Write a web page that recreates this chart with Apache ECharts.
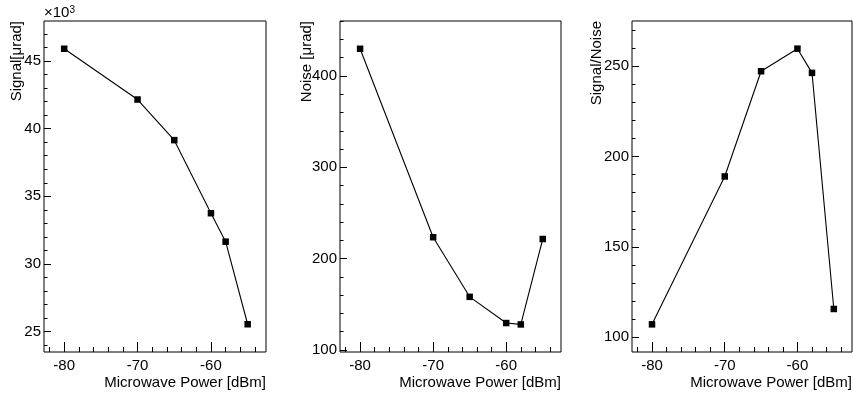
<!DOCTYPE html>
<html>
<head>
<meta charset="utf-8">
<script src="https://cdn.jsdelivr.net/npm/echarts@6/dist/echarts.min.js"></script>
<style>
html,body{margin:0;padding:0;background:#fff;}
#chart{width:853px;height:396px;}
</style>
</head>
<body>
<div id="chart"></div>
<script>
// ---- data ----
const powerDbm = [-80, -70, -65, -60, -58, -55];
const signalK = [45.9, 42.15, 39.15, 33.75, 31.65, 25.55];   // ×10^3 µrad
const noiseUrad = [429.8, 223.5, 158.2, 129.5, 128.0, 221.5];
const signalNoise = [107.2, 189.0, 247.2, 259.7, 246.3, 115.7];

// ---- tick labels ----
const xTickLabels = [-80, -70, -60];
const signalTickLabels = [25, 30, 35, 40, 45];
const noiseTickLabels = [100, 200, 300, 400];
const snrTickLabels = [100, 150, 200, 250];

// ---- axis ranges ----
const xRange = [-82.75, -52.5];
const signalRange = [23.5, 47.95];
const noiseRange = [97.8, 460.2];
const snrRange = [91.9, 275.0];

// ---- titles ----
const xTitle = 'Microwave Power [dBm]';
const yTitles = ['Signal[μrad]', 'Noise [μrad]', 'Signal/Noise'];

function steps(range, step) {
  const out = [];
  let v = Math.ceil(range[0] / step) * step;
  for (; v <= range[1] + 1e-9; v += step) out.push(+v.toFixed(6));
  return out;
}

const FONT = '"Liberation Sans", Arial, Helvetica, sans-serif';
const grids = [
  {left: 44, top: 21, width: 222, height: 331},
  {left: 340, top: 21, width: 221, height: 331},
  {left: 632, top: 21, width: 220, height: 331}
];
const panels = [
  {y: signalK, yRange: signalRange, yTicks: signalTickLabels, yMinorStep: 1},
  {y: noiseUrad, yRange: noiseRange, yTicks: noiseTickLabels, yMinorStep: 20},
  {y: signalNoise, yRange: snrRange, yTicks: snrTickLabels, yMinorStep: 10}
];

const option = {
  animation: false,
  backgroundColor: '#fff',
  grid: grids.map(g => Object.assign({show: true, borderColor: '#000', borderWidth: 1, backgroundColor: 'transparent', containLabel: false}, g)),
  xAxis: [],
  yAxis: [],
  series: [],
  graphic: []
};

panels.forEach((p, i) => {
  const xMajIdx = option.xAxis.length;
  option.xAxis.push({
    type: 'value', gridIndex: i, position: 'bottom', min: xRange[0], max: xRange[1],
    axisLine: {show: false}, splitLine: {show: false},
    axisTick: {show: true, inside: true, length: 10, customValues: xTickLabels, lineStyle: {color: '#000', width: 1}},
    axisLabel: {show: true, customValues: xTickLabels, margin: 6, color: '#000', fontSize: 15, fontFamily: FONT}
  });
  option.xAxis.push({
    type: 'value', gridIndex: i, position: 'bottom', min: xRange[0], max: xRange[1],
    axisLine: {show: false}, splitLine: {show: false},
    axisTick: {show: true, inside: true, length: 5, customValues: steps(xRange, 2), lineStyle: {color: '#000', width: 1}},
    axisLabel: {show: false}
  });
  const yMajIdx = option.yAxis.length;
  option.yAxis.push({
    type: 'value', gridIndex: i, position: 'left', min: p.yRange[0], max: p.yRange[1],
    axisLine: {show: false}, splitLine: {show: false},
    axisTick: {show: true, inside: true, length: 7, customValues: p.yTicks, lineStyle: {color: '#000', width: 1}},
    axisLabel: {show: true, customValues: p.yTicks, margin: 3, color: '#000', fontSize: 15, fontFamily: FONT}
  });
  option.yAxis.push({
    type: 'value', gridIndex: i, position: 'left', min: p.yRange[0], max: p.yRange[1],
    axisLine: {show: false}, splitLine: {show: false},
    axisTick: {show: true, inside: true, length: 3.5, customValues: steps(p.yRange, p.yMinorStep), lineStyle: {color: '#000', width: 1}},
    axisLabel: {show: false}
  });
  option.series.push({
    type: 'line', xAxisIndex: xMajIdx, yAxisIndex: yMajIdx,
    data: powerDbm.map((x, k) => [x, p.y[k]]),
    symbol: 'rect', symbolSize: 6.5, showSymbol: true,
    itemStyle: {color: '#000'},
    lineStyle: {color: '#000', width: 1.1},
    z: 5
  });
});

const yTitleX = [17, 307, 597];
yTitles.forEach((t, i) => {
  option.graphic.push({
    type: 'text', x: yTitleX[i], y: 21, rotation: Math.PI / 2,
    style: {text: t, fill: '#000', font: '15px ' + FONT, align: 'right', verticalAlign: 'middle'}
  });
  option.graphic.push({
    type: 'text', x: grids[i].left + grids[i].width, y: 383,
    style: {text: xTitle, fill: '#000', font: '15px ' + FONT, align: 'right', verticalAlign: 'middle'}
  });
});
option.graphic.push({
  type: 'text', x: 44, y: 21,
  style: {
    text: '×10{sup|3}', fill: '#000', font: '15px ' + FONT, align: 'left', verticalAlign: 'bottom',
    rich: {sup: {fontSize: 10, fontFamily: FONT, fill: '#000', verticalAlign: 'top', lineHeight: 16}}
  }
});

const chart = echarts.init(document.getElementById('chart'), null, {renderer: 'canvas'});
chart.setOption(option);
</script>
</body>
</html>
